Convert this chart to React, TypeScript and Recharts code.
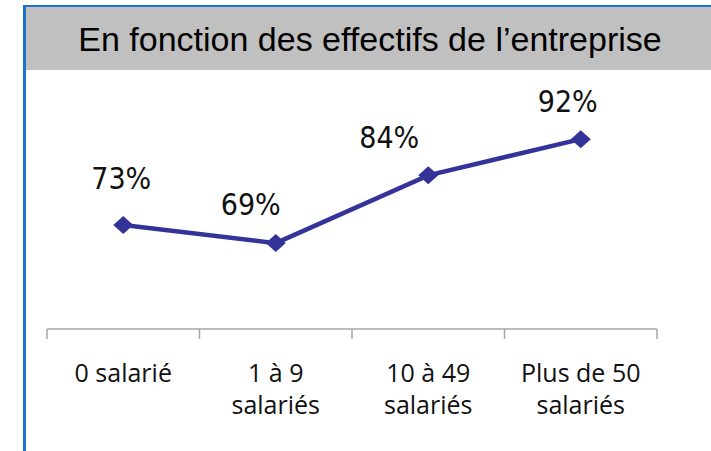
import React from "react";
import { LineChart, Line, XAxis, YAxis, LabelList } from "recharts";

const categories = ["0 salarié", "1 à 9\nsalariés", "10 à 49\nsalariés", "Plus de 50\nsalariés"];
const values = [73, 69, 84, 92];
const valueLabels = ["73%", "69%", "84%", "92%"];
const title = "En fonction des effectifs de l’entreprise";

const data = categories.map((c, i) => ({ cat: c, value: values[i], label: valueLabels[i] }));

const W = 711;
const H = 451;
const MARGIN = { top: 103, left: 47, right: 54, bottom: 22 };
const XAXIS_H = 100;
const LINE_COLOR = "#333399";
const AXIS_COLOR = "#a6a6a6";
const BLUE = "#1a74cc";

// label placement tweaks (relative to the point)
const LABEL_DX = [-2, -25, -39, -13];
const LABEL_DY = [-36, -28, -27, -27];

const plotW = W - MARGIN.left - MARGIN.right;
const bandW = plotW / categories.length;

const Tick = (props: any) => {
  const { x, y, payload, index } = props;
  const lines = String(payload.value).split("\n");
  return (
    <g>
      <line x1={x - bandW / 2} x2={x - bandW / 2} y1={y} y2={y + 10} stroke={AXIS_COLOR} strokeWidth={1.5} />
      {index === categories.length - 1 && (
        <line x1={x + bandW / 2} x2={x + bandW / 2} y1={y} y2={y + 10} stroke={AXIS_COLOR} strokeWidth={1.5} />
      )}
      {lines.map((l, i) => (
        <text
          key={i}
          x={x}
          y={y + 53 + i * 32}
          textAnchor="middle"
          fontFamily="'Open Sans', sans-serif"
          fontSize={25}
          fill="#111"
        >
          {l}
        </text>
      ))}
    </g>
  );
};

const Diamond = (props: any) => {
  const { cx, cy } = props;
  if (cx == null || cy == null) return null;
  return <polygon points={`${cx - 10},${cy} ${cx},${cy - 9} ${cx + 10},${cy} ${cx},${cy + 9}`} fill={LINE_COLOR} />;
};

const ValueLabel = (props: any) => {
  const { x, y, value, index } = props;
  return (
    <text
      x={x + LABEL_DX[index]}
      y={y + LABEL_DY[index]}
      textAnchor="middle"
      fontFamily="'Liberation Sans Narrow', 'DejaVu Sans Condensed', sans-serif"
      fontSize={30}
      fill="#111"
    >
      {value}
    </text>
  );
};

export default function App() {
  return (
    <div style={{ position: "absolute", left: 0, top: 0, width: W, height: H, background: "#fff", overflow: "hidden" }}>
      <svg width={W} height={H} style={{ position: "absolute", left: 0, top: 0 }}>
        <rect x={26} y={7} width={W - 26} height={63} fill="#c0c0c0" />
        <rect x={23} y={5} width={W - 23} height={2} fill={BLUE} />
        <rect x={23} y={5} width={3} height={H - 5} fill={BLUE} />
        <text x={370} y={51} textAnchor="middle" fontFamily="'Liberation Sans', Arial, sans-serif" fontSize={34} fill="#000">
          {title}
        </text>
      </svg>
      <div style={{ position: "absolute", left: 0, top: 0 }}>
        <LineChart width={W} height={H} data={data} margin={MARGIN}>
          <XAxis
            dataKey="cat"
            scale="band"
            height={XAXIS_H}
            tickSize={0}
            tickMargin={0}
            axisLine={{ stroke: AXIS_COLOR, strokeWidth: 1.5 }}
            tickLine={false}
            tick={<Tick />}
            interval={0}
          />
          <YAxis hide domain={[50, 100]} />
          <Line
            dataKey="value"
            stroke={LINE_COLOR}
            strokeWidth={4.5}
            dot={<Diamond />}
            activeDot={false}
            isAnimationActive={false}
          >
            <LabelList dataKey="label" content={<ValueLabel />} />
          </Line>
        </LineChart>
      </div>
    </div>
  );
}
